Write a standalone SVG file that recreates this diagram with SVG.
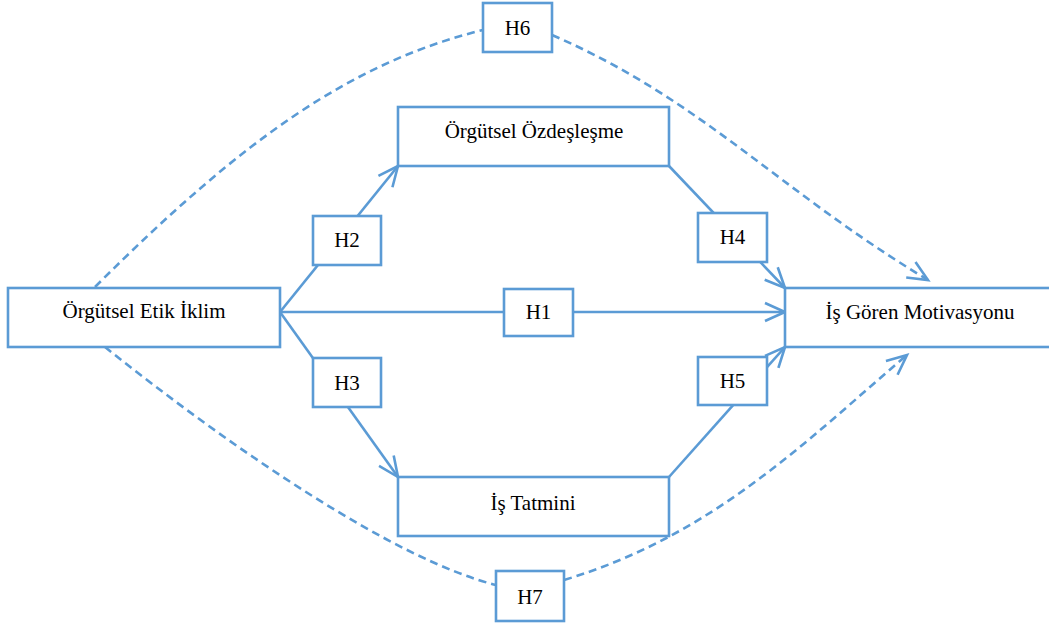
<svg xmlns="http://www.w3.org/2000/svg" width="1049" height="624" viewBox="0 0 1049 624">
<style>
.box{fill:#fff;stroke:#5B9BD5;stroke-width:2.6}
.ln{fill:none;stroke:#5B9BD5;stroke-width:2.6}
.dash{fill:none;stroke:#5B9BD5;stroke-width:2.6;stroke-dasharray:8,5}
text{font-family:"Liberation Serif","Times New Roman",serif;font-size:21px;fill:#000;text-anchor:middle}
</style>
<defs>
<marker id="arr" markerUnits="userSpaceOnUse" markerWidth="30" markerHeight="30" viewBox="-25 -15 30 30" refX="0" refY="0" orient="auto">
<path d="M-20,-9 L0,0 L-20,9" fill="none" stroke="#5B9BD5" stroke-width="2.6" stroke-dasharray="none"/>
</marker>
</defs>
<rect width="1049" height="624" fill="#fff"/>
<g id="connectors">
<line class="ln" x1="280" y1="312" x2="785" y2="312" marker-end="url(#arr)"/>
<line class="ln" x1="280" y1="312" x2="398" y2="166" marker-end="url(#arr)"/>
<line class="ln" x1="280" y1="312" x2="398" y2="477" marker-end="url(#arr)"/>
<line class="ln" x1="669" y1="166" x2="785" y2="288" marker-end="url(#arr)"/>
<line class="ln" x1="669" y1="477" x2="785" y2="347" marker-end="url(#arr)"/>
<path class="dash" d="M95,287 C245,137 353,62 483,30"/>
<path class="dash" d="M552,35 C702,100 778,190 928,280" marker-end="url(#arr)"/>
<path class="dash" d="M105,347 C235,451 396,560 496,585"/>
<path class="dash" d="M564,580 C714,535 807,440 907,355" marker-end="url(#arr)"/>
</g>
<g id="node-etik"><rect class="box" x="8" y="288" width="272" height="59"/><text x="144" y="318">Örgütsel Etik İklim</text></g>
<g id="node-motivasyon"><rect class="box" x="785" y="288" width="280" height="59"/><text x="920" y="319">İş Gören Motivasyonu</text></g>
<g id="node-ozdeslesme"><rect class="box" x="398" y="107" width="271" height="59"/><text x="534" y="138">Örgütsel Özdeşleşme</text></g>
<g id="node-tatmin"><rect class="box" x="398" y="477" width="271" height="59"/><text x="533" y="510">İş Tatmini</text></g>
<g id="node-h1"><rect class="box" x="504" y="289" width="69" height="47"/><text x="538.5" y="319">H1</text></g>
<g id="node-h2"><rect class="box" x="313" y="216" width="68" height="49"/><text x="347" y="247">H2</text></g>
<g id="node-h3"><rect class="box" x="313" y="358" width="68" height="49"/><text x="347" y="390">H3</text></g>
<g id="node-h4"><rect class="box" x="698" y="213" width="69" height="49"/><text x="732.5" y="244">H4</text></g>
<g id="node-h5"><rect class="box" x="698" y="357" width="69" height="48"/><text x="732.5" y="388">H5</text></g>
<g id="node-h6"><rect class="box" x="483" y="3" width="69" height="49"/><text x="517.5" y="35">H6</text></g>
<g id="node-h7"><rect class="box" x="496" y="571" width="68" height="50"/><text x="530" y="604">H7</text></g>
</svg>
